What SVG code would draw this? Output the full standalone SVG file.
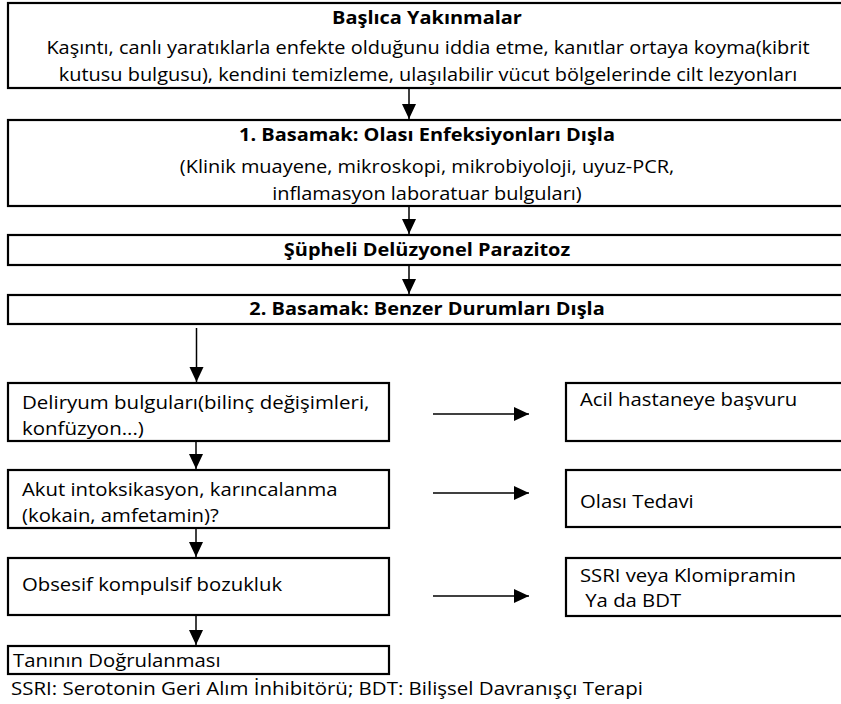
<svg xmlns="http://www.w3.org/2000/svg" width="841" height="704" viewBox="0 0 841 704">
<defs>
<style>
.box{fill:#fff;stroke:#000;stroke-width:2.2}
.t{font-family:"Open Sans","Noto Sans","DejaVu Sans",sans-serif;font-size:17.5px;fill:#000}
.b{font-weight:bold}
.c{text-anchor:middle}
.ln{stroke:#000;stroke-width:1.5;fill:none}
</style>
<marker id="ah" markerUnits="userSpaceOnUse" markerWidth="16" markerHeight="16" refX="15" refY="7" orient="auto" viewBox="0 0 16 14">
<path d="M0,0 L15,7 L0,14 z" fill="#000"/>
</marker>
</defs>
<rect width="841" height="704" fill="#fff"/>
<g id="connectors">
<line class="ln" x1="409" y1="89" x2="409" y2="119" marker-end="url(#ah)"/>
<line class="ln" x1="409" y1="207" x2="409" y2="234" marker-end="url(#ah)"/>
<line class="ln" x1="409" y1="266" x2="409" y2="294" marker-end="url(#ah)"/>
<line class="ln" x1="196.5" y1="328" x2="196.5" y2="382" marker-end="url(#ah)"/>
<line class="ln" x1="196" y1="438" x2="196" y2="469" marker-end="url(#ah)"/>
<line class="ln" x1="196" y1="529" x2="196" y2="557" marker-end="url(#ah)"/>
<line class="ln" x1="196" y1="616" x2="196" y2="645" marker-end="url(#ah)"/>
<line class="ln" x1="433" y1="414" x2="529" y2="414" marker-end="url(#ah)"/>
<line class="ln" x1="433" y1="493" x2="529" y2="493" marker-end="url(#ah)"/>
<line class="ln" x1="433" y1="596" x2="529" y2="596" marker-end="url(#ah)"/>
</g>
<g id="n1">
<rect class="box" x="8" y="3" width="836" height="85"/>
<text class="t b c" transform="translate(427,24) scale(1.14,1)">Başlıca Yakınmalar</text>
<text class="t c" transform="translate(428,54) scale(1.14,1)">Kaşıntı, canlı yaratıklarla enfekte olduğunu iddia etme, kanıtlar ortaya koyma(kibrit</text>
<text class="t c" transform="translate(428,81) scale(1.14,1)">kutusu bulgusu), kendini temizleme, ulaşılabilir vücut bölgelerinde cilt lezyonları</text>
</g>
<g id="n2">
<rect class="box" x="8" y="120" width="836" height="86"/>
<text class="t b c" transform="translate(427,141) scale(1.14,1)">1. Basamak: Olası Enfeksiyonları Dışla</text>
<text class="t c" transform="translate(427,173) scale(1.14,1)">(Klinik muayene, mikroskopi, mikrobiyoloji, uyuz-PCR,</text>
<text class="t c" transform="translate(427,200) scale(1.14,1)">inflamasyon laboratuar bulguları)</text>
</g>
<g id="n3">
<rect class="box" x="8" y="235" width="836" height="30"/>
<text class="t b c" transform="translate(427,256) scale(1.14,1)">Şüpheli Delüzyonel Parazitoz</text>
</g>
<g id="n4">
<rect class="box" x="8" y="295" width="836" height="29"/>
<text class="t b c" transform="translate(427,315) scale(1.14,1)">2. Basamak: Benzer Durumları Dışla</text>
</g>
<g id="n5">
<rect class="box" x="8" y="383" width="381" height="58"/>
<text class="t" transform="translate(22,409) scale(1.17,1)">Deliryum bulguları(bilinç değişimleri,</text>
<text class="t" transform="translate(22,435) scale(1.17,1)">konfüzyon...)</text>
</g>
<g id="n6">
<rect class="box" x="8" y="470" width="381" height="58"/>
<text class="t" transform="translate(22,496) scale(1.16,1)">Akut intoksikasyon, karıncalanma</text>
<text class="t" transform="translate(22,522) scale(1.16,1)">(kokain, amfetamin)?</text>
</g>
<g id="n7">
<rect class="box" x="8" y="558" width="381" height="57"/>
<text class="t" transform="translate(22,591) scale(1.16,1)">Obsesif kompulsif bozukluk</text>
</g>
<g id="n8">
<rect class="box" x="8" y="646" width="381" height="28"/>
<text class="t" transform="translate(13,667) scale(1.16,1)">Tanının Doğrulanması</text>
</g>
<g id="n9">
<rect class="box" x="566" y="383" width="280" height="58"/>
<text class="t" transform="translate(580,406) scale(1.16,1)">Acil hastaneye başvuru</text>
</g>
<g id="n10">
<rect class="box" x="566" y="470" width="280" height="57"/>
<text class="t" transform="translate(580,508) scale(1.16,1)">Olası Tedavi</text>
</g>
<g id="n11">
<rect class="box" x="566" y="558" width="280" height="58"/>
<text class="t" transform="translate(580,582) scale(1.16,1)">SSRI veya Klomipramin</text>
<text class="t" transform="translate(580,607) scale(1.16,1)" xml:space="preserve"> Ya da BDT</text>
</g>
<g id="footnote">
<text class="t" transform="translate(11,695) scale(1.17,1)">SSRI: Serotonin Geri Alım İnhibitörü; BDT: Bilişsel Davranışçı Terapi</text>
</g>
</svg>
